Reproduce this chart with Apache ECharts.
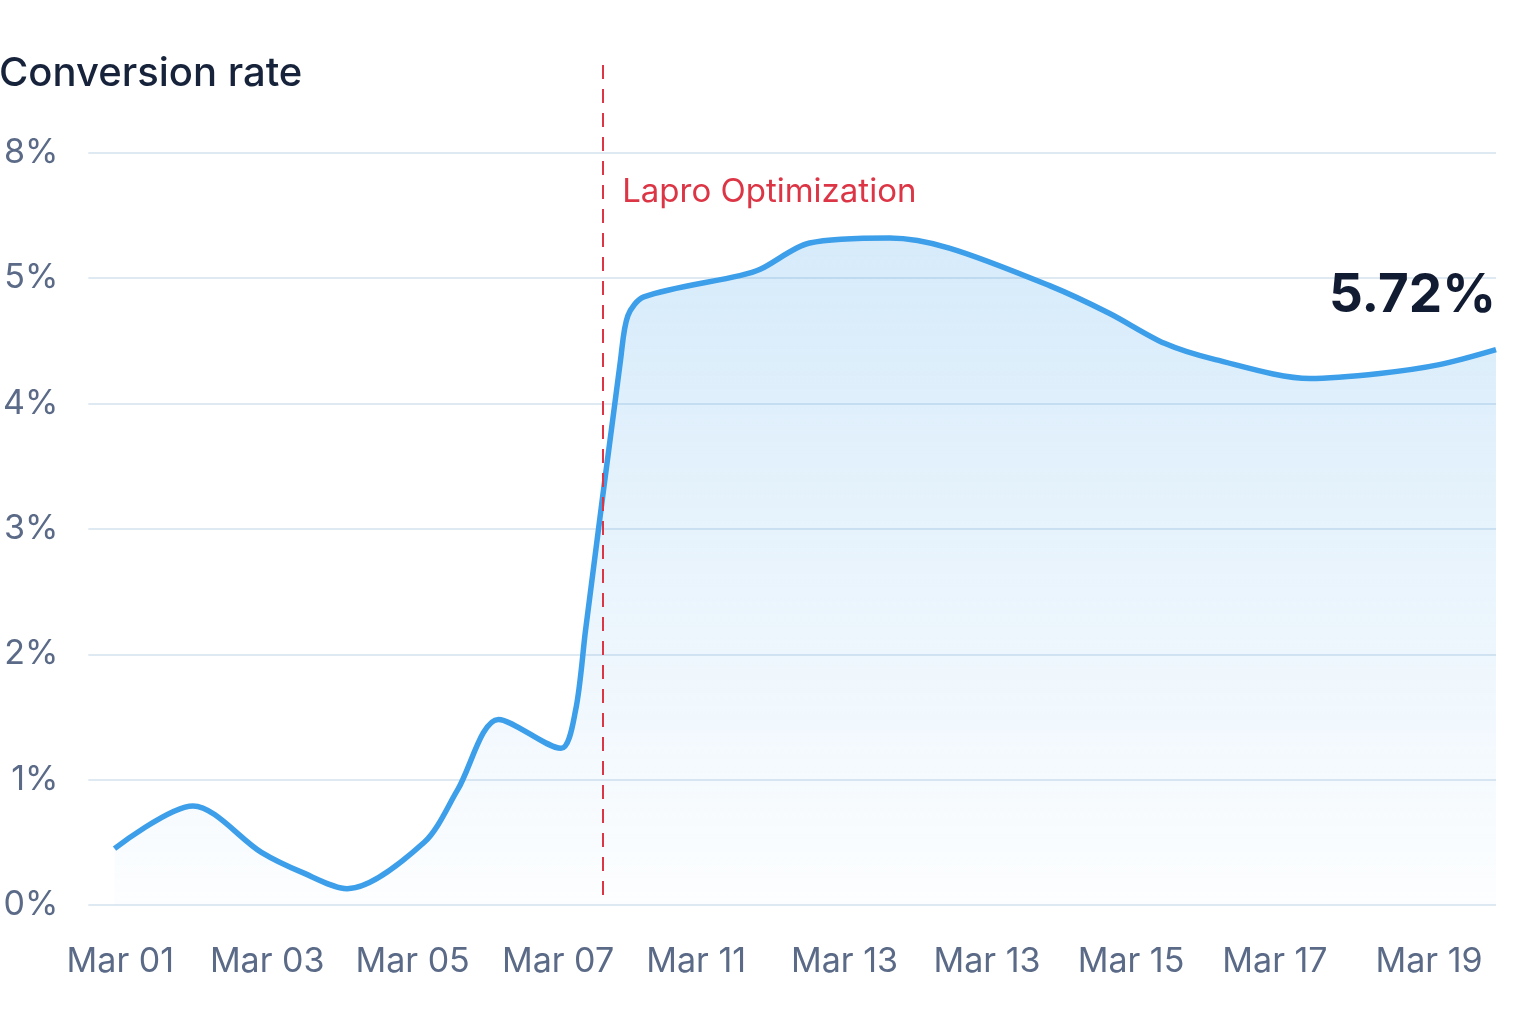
<!DOCTYPE html>
<html>
<head>
<meta charset="utf-8">
<script src="https://cdn.jsdelivr.net/npm/echarts@6/dist/echarts.min.js"></script>
<style>
  html, body { margin: 0; padding: 0; background: #fff; }
  #main { width: 1536px; height: 1024px; }
</style>
</head>
<body>
<div id="main"></div>
<script>
// x positions (1 unit ~ one axis label step) and conversion rate values
const xPos = [-0.04, 0.5, 0.97, 1.25, 1.56, 2.09, 2.32, 2.6, 3.03, 3.13, 3.2, 3.44, 3.49, 3.6, 4.26, 4.4, 4.74, 5.29, 5.7, 6.39, 6.8, 7.18, 7.53, 8.18, 8.66, 9.07, 9.46];
const rate = [0.45, 0.79, 0.42, 0.26, 0.13, 0.5, 0.92, 1.48, 1.25, 1.55, 2.2, 4.35, 4.7, 4.85, 5.02, 5.07, 5.28, 5.32, 5.24, 4.94, 4.72, 4.48, 4.35, 4.2, 4.24, 4.31, 4.43];

const xLabels = ['Mar 01', 'Mar 03', 'Mar 05', 'Mar 07', 'Mar 11', 'Mar 13', 'Mar 13', 'Mar 15', 'Mar 17', 'Mar 19'];
const xTicks = [0, 1.01, 2.01, 3.01, 3.96, 4.98, 5.96, 6.95, 7.94, 9.0];
const yLabels = ['0%', '1%', '2%', '3%', '4%', '5%', '8%'];

const eventX = 3.32;
const eventName = 'Lapro Optimization';
const eventLabelY = 5.69;
const currentText = '5.72%';
const currentLabelY = 4.86;

const FONT = 'Inter, "Noto Sans", sans-serif';

const chart = echarts.init(document.getElementById('main'));

function nearestLabel(v) {
    let best = 0;
    for (let i = 1; i < xTicks.length; i++) {
        if (Math.abs(xTicks[i] - v) < Math.abs(xTicks[best] - v)) best = i;
    }
    return xLabels[best];
}

const option = {
    animation: false,
    title: {
        text: 'Conversion rate',
        left: -1,
        top: 54,
        padding: 0,
        textStyle: {
            fontFamily: FONT,
            fontSize: 40,
            fontWeight: 500,
            color: '#17233b'
        }
    },
    grid: {
        left: 88,
        right: 40,
        top: 65,
        bottom: 119
    },
    xAxis: {
        type: 'value',
        min: -0.22,
        max: 9.46,
        axisLine: { show: false },
        axisTick: { show: false },
        splitLine: { show: false },
        axisLabel: {
            customValues: xTicks,
            margin: 40,
            fontFamily: FONT,
            fontSize: 34,
            color: '#5a6a87',
            formatter: nearestLabel
        }
    },
    yAxis: {
        type: 'value',
        min: 0,
        max: 6.7,
        interval: 1,
        axisLine: { show: false },
        axisTick: { show: false },
        splitLine: {
            showMaxLine: false,
            lineStyle: { color: '#dfe9f2', width: 2 }
        },
        axisLabel: {
            showMaxLabel: false,
            margin: 30,
            fontFamily: FONT,
            fontSize: 34,
            color: '#5a6a87',
            formatter: function (v) {
                return yLabels[Math.round(v)] || '';
            }
        }
    },
    series: [
        {
            type: 'line',
            data: xPos.map((x, i) => [x, rate[i]]),
            smooth: 0.3,
            symbol: 'none',
            lineStyle: { color: '#3d9fe9', width: 5.5 },
            areaStyle: {
                color: new echarts.graphic.LinearGradient(0, 0, 0, 1, [
                    { offset: 0, color: 'rgba(61, 159, 233, 0.3)' },
                    { offset: 0.5, color: 'rgba(61, 159, 233, 0.16)' },
                    { offset: 1, color: 'rgba(61, 159, 233, 0.02)' }
                ])
            },
            markLine: {
                silent: true,
                symbol: 'none',
                label: { show: false },
                lineStyle: { color: '#dc3545', width: 2, type: [14, 10] },
                data: [[{ coord: [eventX, 6.7] }, { coord: [eventX, 0] }]]
            },
            markPoint: {
                silent: true,
                symbol: 'circle',
                symbolSize: 0,
                data: [
                    {
                        coord: [eventX, eventLabelY],
                        label: {
                            show: true,
                            position: 'right',
                            distance: 19,
                            formatter: eventName,
                            fontFamily: FONT,
                            fontSize: 33,
                            color: '#dc3545'
                        }
                    },
                    {
                        coord: [9.46, currentLabelY],
                        label: {
                            show: true,
                            position: 'left',
                            distance: 0,
                            formatter: currentText,
                            fontFamily: FONT,
                            fontSize: 53,
                            fontWeight: 700,
                            color: '#111c33'
                        }
                    }
                ]
            }
        }
    ]
};

chart.setOption(option);
</script>
</body>
</html>
